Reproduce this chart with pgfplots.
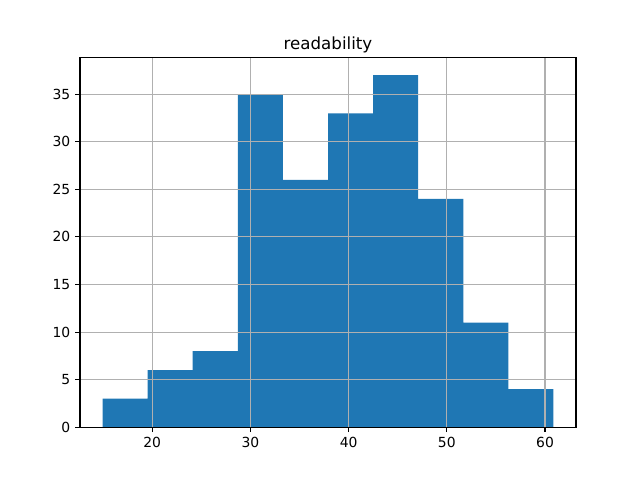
\documentclass[border=0pt]{standalone}
\usepackage{pgfplots}
\pgfplotsset{compat=1.18}
\usepackage{fontspec}
\setmainfont{DejaVu Sans}
\definecolor{mplblue}{HTML}{1F77B4}
\definecolor{gridgray}{HTML}{B0B0B0}
\begin{document}
\begin{tikzpicture}
\useasboundingbox (0,0) rectangle (460.8pt,345.6pt);
\begin{axis}[
  at={(57.6pt,38.016pt)}, anchor=south west,
  scale only axis, width=357.12pt, height=266.11pt,
  xmin=12.644, xmax=63.156, ymin=0, ymax=38.85,
  xtick={20,30,40,50,60}, ytick={0,5,...,35},
  grid=major, major grid style={color=gridgray, line width=0.8pt},
  axis line style={line width=0.8pt},
  tick style={line width=0.8pt, black},
  major tick length=3.5pt,
  tick align=outside, xtick pos=bottom, ytick pos=left,
  axis on top,
  ticklabel style={font=\fontsize{10}{12}\selectfont},
  /pgf/number format/assume math mode=true,
  title={readability}, title style={font=\fontsize{12}{14}\selectfont, yshift=-6pt},
]
\addplot[ybar interval, fill=mplblue, draw=none] coordinates {
(14.94,3) (19.532,6) (24.124,8) (28.716,35) (33.308,26) (37.90,33) (42.492,37) (47.084,24) (51.676,11) (56.268,4) (60.86,4)
};
\end{axis}
\end{tikzpicture}
\end{document}
